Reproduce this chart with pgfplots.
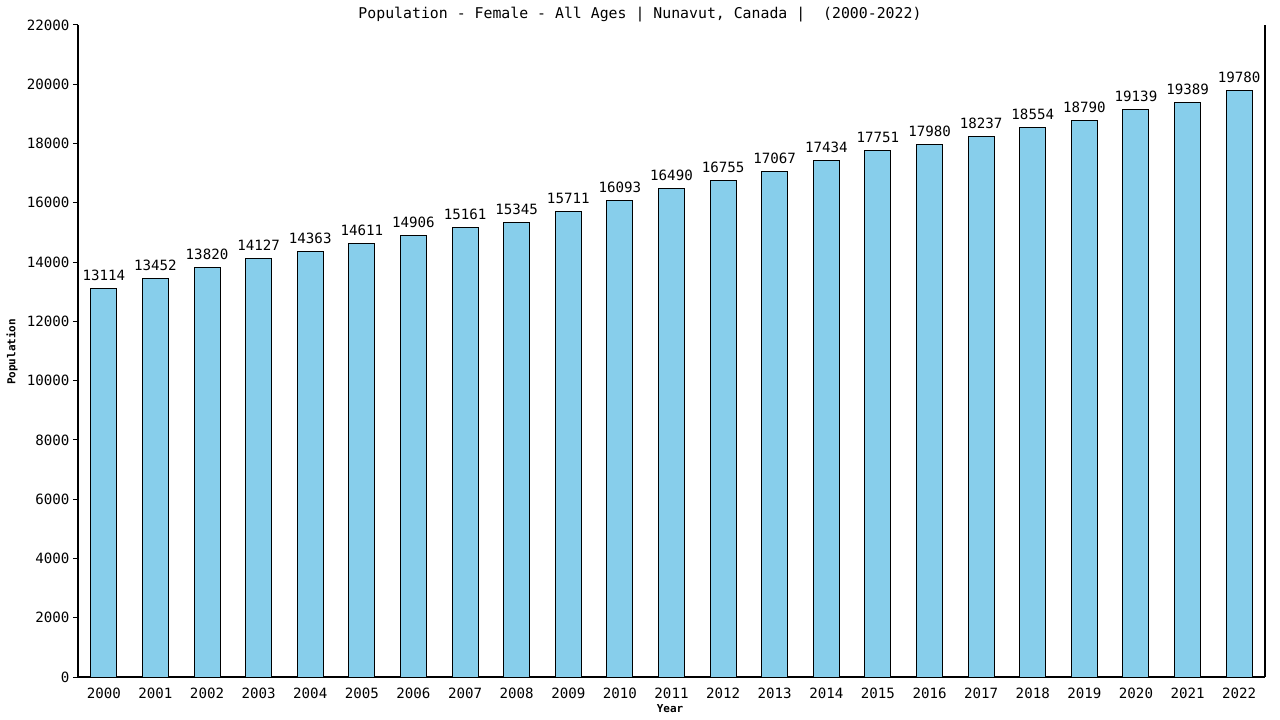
\documentclass[border=0pt]{standalone}
\usepackage{fontspec}
\setmainfont{DejaVu Sans Mono}
\usepackage{pgfplots}
\pgfplotsset{compat=1.18}
\definecolor{barblue}{HTML}{87CEEB}
\newcommand{\mainsize}{\fontsize{14.2}{16}\selectfont}
\newcommand{\titlesize}{\fontsize{14.9}{16}\selectfont}
\newcommand{\smallsize}{\fontsize{11}{12}\selectfont\bfseries}
\begin{document}
\begin{tikzpicture}
\path[use as bounding box] (-78bp,-43bp) rectangle (1202bp,677bp);
\begin{axis}[
    at={(0,0)}, anchor=south west,
    scale only axis,
    width=1187bp, height=652bp,
    ybar, bar width=26bp, bar shift=0pt,
    xmin=-0.5, xmax=22.5,
    ymin=0, ymax=22000,
    ytick={0,2000,...,22000},
    scaled y ticks=false,
    yticklabel={\pgfmathprintnumber[fixed,precision=0,1000 sep={}]{\tick}},
    xtick={0,...,22},
    xticklabels={2000,2001,2002,2003,2004,2005,2006,2007,2008,2009,2010,2011,2012,2013,2014,2015,2016,2017,2018,2019,2020,2021,2022},
    axis x line*=bottom, axis y line*=box,
    axis line style={-, black, line width=1.2pt},
    ytick pos=left, tick align=outside,
    major tick length=5bp,
    y tick style={black, line width=1pt},
    x tick style={draw=none},
    /pgf/number format/1000 sep={},
    /pgf/number format/assume math mode=true,
    tick label style={font=\mainsize},
    xticklabel style={yshift=-2bp},
    nodes near coords,
    nodes near coords style={font=\mainsize, /pgf/number format/1000 sep={}, yshift=4bp},
]
\addplot[fill=barblue, draw=black, line width=1pt] coordinates {
(0,13114) (1,13452) (2,13820) (3,14127) (4,14363) (5,14611) (6,14906) (7,15161)
(8,15345) (9,15711) (10,16093) (11,16490) (12,16755) (13,17067) (14,17434)
(15,17751) (16,17980) (17,18237) (18,18554) (19,18790) (20,19139) (21,19389) (22,19780)};
\end{axis}
\node[font=\titlesize] at (562bp,662bp) {Population - Female - All Ages | Nunavut, Canada |\ \ (2000-2022)};
\node[font=\smallsize, rotate=90] at (-66bp,325bp) {Population};
\node[font=\smallsize] at (592bp,-32bp) {Year};
\end{tikzpicture}
\end{document}
